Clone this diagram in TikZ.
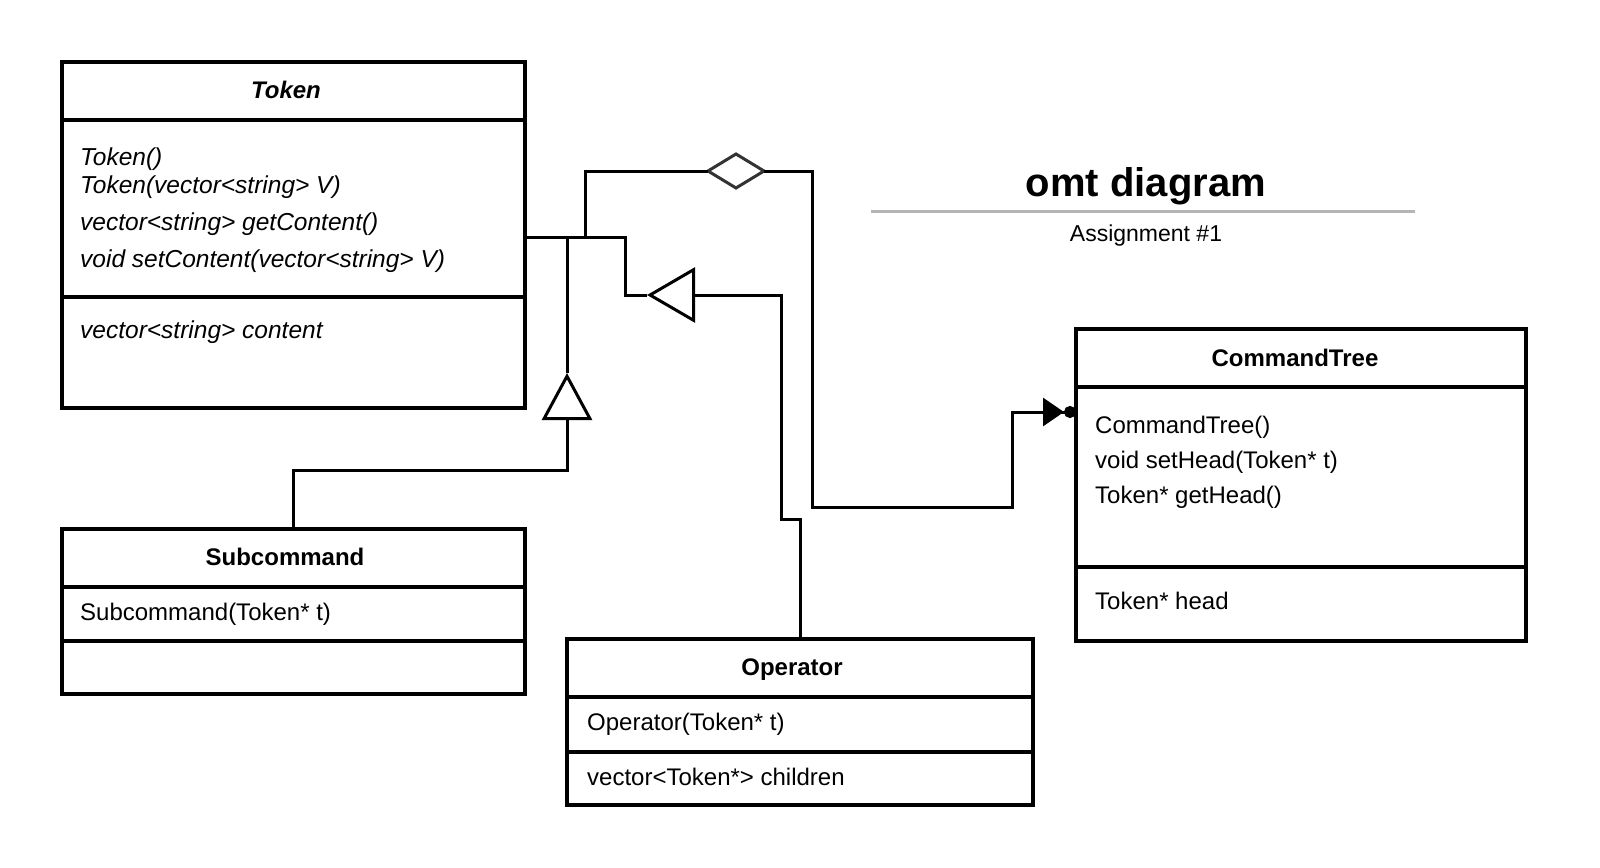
\documentclass[tikz,border=0pt]{standalone}
\usepackage{fontspec}
\setmainfont{Liberation Sans}
\usetikzlibrary{arrows.meta,shapes.geometric}
\tikzset{
    compart/.style={rectangle,draw=black,fill=white,line width=4pt,inner sep=0pt,outer sep=0pt,anchor=north west},
    headtext/.style={anchor=base,inner sep=0pt,font=\fontsize{24}{29}\selectfont\bfseries},
    bodytext/.style={anchor=base west,inner sep=0pt,font=\fontsize{24}{29}\selectfont},
    slanttext/.style={bodytext,font=\fontsize{24.5}{29}\selectfont\itshape},
    conn/.style={draw=black,line width=3pt},
    inherit/.style 2 args={conn,-{Triangle[open,fill=white,length=#1,width=#2]}},
    aggdiamond/.style={diamond,draw=black!80,fill=white,line width=3pt,inner sep=0pt,outer sep=0pt,minimum width=56pt,minimum height=34pt},
    aggregate/.style={conn,-{Triangle[length=21pt,width=28pt,sep=0pt]Circle[length=12pt]}}
}
\begin{document}
\begin{tikzpicture}[x=1pt,y=-1pt]
\fill[white](0,0)rectangle(1600,867);
\useasboundingbox(0,0)rectangle(1600,867);

\node[compart,minimum width=463pt,minimum height=58pt](tokhead)at(62,62){};
\node[compart,minimum width=463pt,minimum height=177pt](tokmeth)at(62,120){};
\node[compart,minimum width=463pt,minimum height=111pt](tokattr)at(62,297){};
\node[headtext](tokname)at(286,98){\itshape Token};
\node[slanttext](tok1)at(80,165){Token()};
\node[slanttext](tok2)at(80,193){Token(vector<string> V)};
\node[slanttext](tok3)at(80,230){vector<string> getContent()};
\node[slanttext](tok4)at(80,267){void setContent(vector<string> V)};
\node[slanttext](tok5)at(80,338){vector<string> content};

\node[compart,minimum width=463pt,minimum height=58pt](subhead)at(62,529){};
\node[compart,minimum width=463pt,minimum height=54pt](submeth)at(62,587){};
\node[compart,minimum width=463pt,minimum height=53pt](subattr)at(62,641){};
\node[headtext](subname)at(285,565){Subcommand};
\node[bodytext](sub1)at(80,620){Subcommand(Token* t)};

\node[compart,minimum width=466pt,minimum height=58pt](operhead)at(567,639){};
\node[compart,minimum width=466pt,minimum height=55pt](opermeth)at(567,697){};
\node[compart,minimum width=466pt,minimum height=53pt](operattr)at(567,752){};
\node[headtext](opername)at(792,675){Operator};
\node[bodytext](oper1)at(587,730){Operator(Token* t)};
\node[bodytext](oper2)at(587,785){vector<Token*> children};

\node[compart,minimum width=450pt,minimum height=58pt](ctreehead)at(1076,329){};
\node[compart,minimum width=450pt,minimum height=180pt](ctreemeth)at(1076,387){};
\node[compart,minimum width=450pt,minimum height=74pt](ctreeattr)at(1076,567){};
\node[headtext](ctreename)at(1295,366){CommandTree};
\node[bodytext](ctree1)at(1095,433){CommandTree()};
\node[bodytext](ctree2)at(1095,468){void setHead(Token* t)};
\node[bodytext](ctree3)at(1095,503){Token* getHead()};
\node[bodytext](ctree4)at(1095,609){Token* head};

\node[anchor=base,inner sep=0pt,font=\fontsize{40}{48}\selectfont\bfseries](title)at(1146,196){omt diagram};
\draw[black!29,line width=3pt](871,211)--(1415,211);
\node[anchor=base,inner sep=0pt,font=\fontsize{23}{28}\selectfont](subtitle)at(1146,241){Assignment \#1};

\coordinate(tokport)at(525,237);
\coordinate(jsub)at(567,237);
\coordinate(jagg)at(585,237);
\coordinate(optip)at(647,295);
\coordinate(subtip)at(567,373);
\coordinate(ctport)at(1076,412);
\node[aggdiamond](agg)at(736,171){};

\draw[conn](tokport)-|(625,295)--(optip);
\draw[conn](jsub)--(subtip);
\draw[conn](jagg)|-(agg.west);
\draw[inherit={48pt}{55pt}](operhead.north)--++(0,-120)-|(781,295)--(optip);
\draw[inherit={47pt}{50pt}](subhead.north)--++(0,-59)-|(subtip);
\draw[aggregate](agg.east)--(812,171)--(812,507)-|(1012,412)--(ctport);
\end{tikzpicture}
\end{document}
